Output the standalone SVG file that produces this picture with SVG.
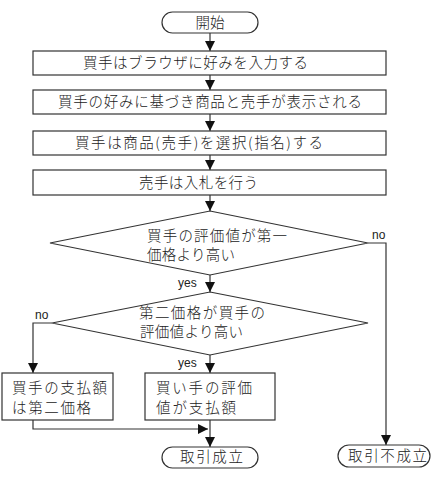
<svg xmlns="http://www.w3.org/2000/svg" width="433" height="482" viewBox="0 0 433 482">
<style>
.s{fill:#fff;stroke:#333;stroke-width:1.2}
.c{fill:none;stroke:#333;stroke-width:1.2}
text{font-family:"Noto Sans CJK JP","Noto Sans",sans-serif;font-size:14.5px;font-weight:300;fill:#222}
.l{font-family:"Liberation Sans","DejaVu Sans",sans-serif;font-size:12px;font-weight:400}
</style>
<defs>
<marker id="a" viewBox="0 0 10 10" refX="10" refY="5" markerWidth="10" markerHeight="10" markerUnits="userSpaceOnUse" orient="auto">
<path d="M0,0L10,5L0,10z" fill="#111"/>
</marker>
</defs>
<rect width="433" height="482" fill="#fff"/>
<g id="connectors">
<line class="c" x1="210" y1="33" x2="210" y2="51" marker-end="url(#a)"/>
<line class="c" x1="210" y1="75" x2="210" y2="90" marker-end="url(#a)"/>
<line class="c" x1="210" y1="114" x2="210" y2="131" marker-end="url(#a)"/>
<line class="c" x1="210" y1="155" x2="210" y2="170" marker-end="url(#a)"/>
<line class="c" x1="210" y1="195" x2="210" y2="211" marker-end="url(#a)"/>
<line class="c" x1="210" y1="275" x2="210" y2="292" marker-end="url(#a)"/>
<polyline class="c" points="368,243 386,243 386,445" marker-end="url(#a)"/>
<polyline class="c" points="52,323 33,323 33,373" marker-end="url(#a)"/>
<line class="c" x1="210" y1="355" x2="210" y2="373" marker-end="url(#a)"/>
<polyline class="c" points="33,420 33,429 208,429" marker-end="url(#a)"/>
<line class="c" x1="210" y1="420" x2="210" y2="447" marker-end="url(#a)"/>
<text class="l" x="372" y="239">no</text>
<text class="l" x="178" y="287">yes</text>
<text class="l" x="35" y="319">no</text>
<text class="l" x="178" y="367">yes</text>
</g>
<g id="start">
<rect class="s" x="162" y="12" width="96" height="21" rx="10.5"/>
<text x="210" y="28" text-anchor="middle">開始</text>
</g>
<g id="box1">
<rect class="s" x="33" y="51" width="353" height="24"/>
<text x="83" y="68" textLength="225">買手はブラウザに好みを入力する</text>
</g>
<g id="box2">
<rect class="s" x="33" y="90" width="353" height="24"/>
<text x="58" y="107" textLength="304">買手の好みに基づき商品と売手が表示される</text>
</g>
<g id="box3">
<rect class="s" x="33" y="131" width="353" height="24"/>
<text x="75" y="148" textLength="248">買手は商品(売手)を選択(指名)する</text>
</g>
<g id="box4">
<rect class="s" x="33" y="170" width="353" height="25"/>
<text x="139" y="188" textLength="119">売手は入札を行う</text>
</g>
<g id="dec1">
<polygon class="s" points="210,211 368,243 210,275 50,243"/>
<text x="147" y="241" textLength="140">買手の評価値が第一</text>
<text x="147" y="260" textLength="88">価格より高い</text>
</g>
<g id="dec2">
<polygon class="s" points="210,292 368,323 210,355 52,323"/>
<text x="139" y="318" textLength="126">第二価格が買手の</text>
<text x="140" y="337" textLength="103">評価値より高い</text>
</g>
<g id="box5">
<rect class="s" x="2" y="373" width="111" height="47"/>
<text x="12" y="393" textLength="95">買手の支払額</text>
<text x="12" y="413" textLength="79">は第二価格</text>
</g>
<g id="box6">
<rect class="s" x="145" y="373" width="130" height="47"/>
<text x="156" y="393" textLength="96">買い手の評価</text>
<text x="156" y="413" textLength="80">値が支払額</text>
</g>
<g id="end1">
<rect class="s" x="162" y="447" width="96" height="21" rx="10.5"/>
<text x="180" y="462" textLength="63">取引成立</text>
</g>
<g id="end2">
<rect class="s" x="338" y="445" width="92" height="22" rx="11"/>
<text x="348" y="461" textLength="79">取引不成立</text>
</g>
</svg>
